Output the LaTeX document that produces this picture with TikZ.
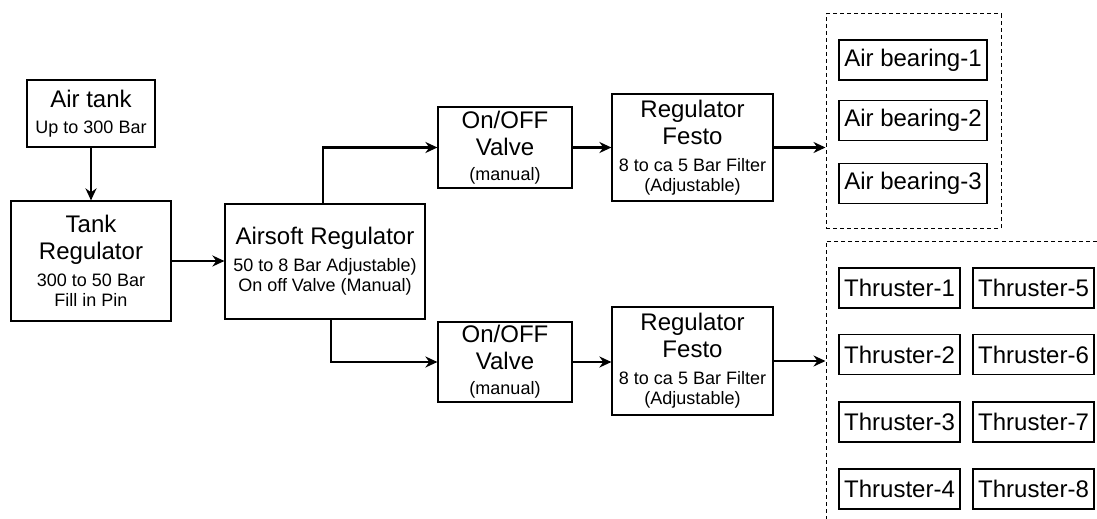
\documentclass[tikz,border=0pt]{standalone}
\usepackage{fontspec}
\setmainfont{Liberation Sans}
\usetikzlibrary{arrows.meta}
\newcommand{\bigtxt}{\fontsize{12}{13.5}\selectfont}
\newcommand{\smalltxt}{\fontsize{9}{10}\selectfont}
\tikzset{
  blk/.style={draw=black, line width=0.6pt, align=center, inner sep=1pt, font=\bigtxt},
  unit/.style={blk, minimum height=20pt},
  flow/.style={-{Stealth[length=6pt,width=5.5pt]}, line width=1.1pt},
  grp/.style={draw=black, line width=0.5pt, dash pattern=on 2pt off 1.5pt},
}

\begin{document}
\begin{tikzpicture}[x=0.5pt, y=-0.5pt]
  \useasboundingbox (0,0) rectangle (1097,519);
  \clip (0,0) rectangle (1097,519);
  % supply side
  \node[blk, minimum width=64pt, minimum height=33.5pt] (tank) at (91,113.5)
    {Air tank\\[-0.5pt]{\smalltxt Up to 300 Bar}};
  \node[blk, minimum width=80pt, minimum height=60pt] (tankreg) at (91,261)
    {Tank\\Regulator\\{\smalltxt 300 to 50 Bar}\\[-3.5pt]{\smalltxt Fill in Pin}};
  \node[blk, minimum width=100pt, minimum height=57.5pt] (airsoft) at (325,261.5)
    {Airsoft Regulator\\{\smalltxt 50 to 8 Bar Adjustable)}\\[-3.5pt]{\smalltxt On off Valve (Manual)}};
  % upper branch
  \node[blk, minimum width=67pt, minimum height=40.5pt] (valve1) at (505,147.5)
    {On/OFF\\Valve\\[-1pt]{\smalltxt (manual)}};
  \node[blk, minimum width=80.5pt, minimum height=53.5pt] (festo1) at (692.5,147.5)
    {Regulator\\Festo\\{\smalltxt 8 to ca 5 Bar Filter}\\[-3.5pt]{\smalltxt (Adjustable)}};
  % lower branch
  \node[blk, minimum width=67pt, minimum height=40pt] (valve2) at (505,362)
    {On/OFF\\Valve\\[-1pt]{\smalltxt (manual)}};
  \node[blk, minimum width=80.5pt, minimum height=54pt] (festo2) at (692.5,361)
    {Regulator\\Festo\\{\smalltxt 8 to ca 5 Bar Filter}\\[-3.5pt]{\smalltxt (Adjustable)}};
  % consumers
  \node[grp, minimum width=87.5pt, minimum height=107pt] (bgrp) at (913.5,121) {};
  \foreach \i/\y in {1/60,2/120.5,3/183.5}
    \node[unit, minimum width=74pt] (bear\i) at (913,\y) {Air bearing-\i};
  \node[grp, minimum width=147pt, minimum height=149.5pt] (tgrp) at (973,390.5) {};
  \foreach \i/\j/\y in {1/5/288,2/6/354.5,3/7/422,4/8/489}{
    \node[unit, minimum width=60.5pt] (thr\i) at (899.5,\y) {Thruster-\i};
    \node[unit, minimum width=60.5pt] (thr\j) at (1033.5,\y) {Thruster-\j};
  }
  % lines
  \draw[flow] (tank) -- (tankreg);
  \draw[flow] (tankreg.east) -- (tankreg.east -| airsoft.west);
  \draw[flow] ([xshift=-1pt]airsoft.north) |- (valve1);
  \draw[flow] ([xshift=3pt]airsoft.south) |- (valve2);
  \draw[flow] (valve1) -- (festo1);
  \draw[flow] (valve2.east) -- (valve2.east -| festo2.west);
  \draw[flow] (festo1.east) -- (festo1.east -| bgrp.west);
  \draw[flow] (festo2.east) -- (festo2.east -| tgrp.west);
\end{tikzpicture}
\end{document}
